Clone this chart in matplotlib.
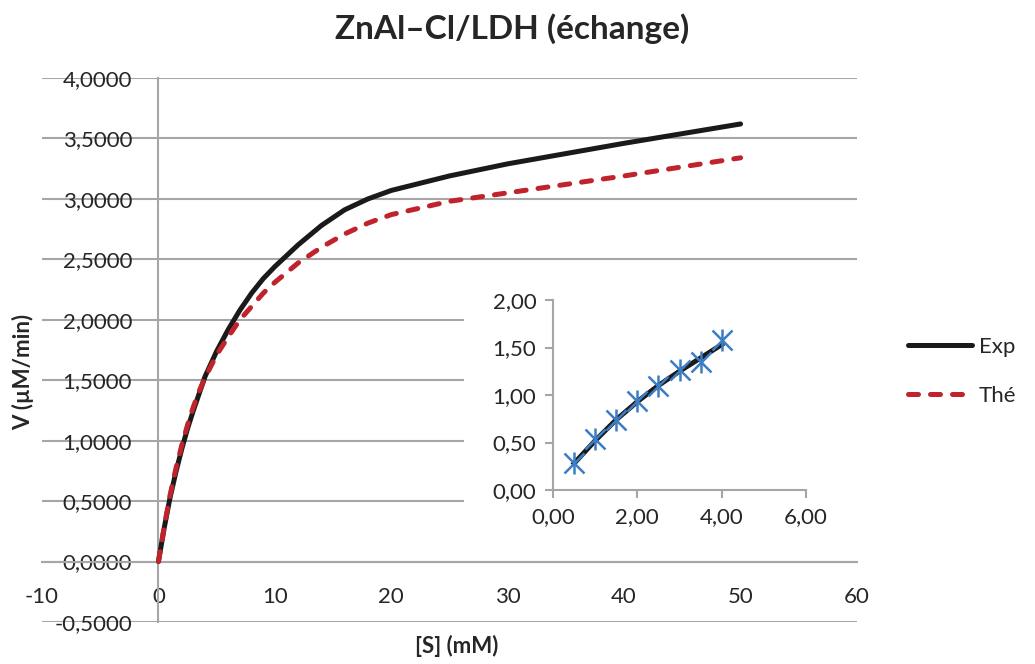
import numpy as np
import matplotlib
matplotlib.use("Agg")
import matplotlib.pyplot as plt
from matplotlib.ticker import FuncFormatter
from matplotlib.patches import Rectangle

plt.rcParams['font.family'] = ['Lato', 'DejaVu Sans']

# donnees
s_exp = [0, 0.5, 1, 1.5, 2, 2.5, 3, 3.5, 4, 5, 6, 7, 8, 9, 10, 12, 14, 16, 18, 20, 25, 30, 40, 50]
v_exp = [0, 0.28, 0.53, 0.74, 0.93, 1.10, 1.25, 1.39, 1.53, 1.74, 1.92, 2.08, 2.22, 2.34, 2.44,
         2.62, 2.78, 2.91, 3.00, 3.07, 3.19, 3.29, 3.46, 3.62]
s_the = [0, 0.5, 1, 1.5, 2, 2.5, 3, 3.5, 4, 5, 6, 7, 8, 9, 10, 12, 14, 16, 18, 20, 25, 30, 40, 50]
v_the = [0, 0.29, 0.55, 0.77, 0.96, 1.13, 1.28, 1.41, 1.52, 1.71, 1.86, 2.00, 2.11, 2.22, 2.31,
         2.47, 2.60, 2.71, 2.80, 2.87, 2.98, 3.05, 3.19, 3.34]

# encart
s_in = [0.5, 1, 1.5, 2, 2.5, 3, 3.5, 4]
v_in_pts = [0.28, 0.54, 0.74, 0.94, 1.10, 1.26, 1.345, 1.58]
v_in_fit = [0.28, 0.52, 0.74, 0.93, 1.10, 1.25, 1.39, 1.53]

grid_col = '#A6A6A6'
txt_col = '#262626'
red = '#C0232B'
blue = '#3C7DC4'

fig = plt.figure(figsize=(10.35, 6.64), dpi=100)
ax = fig.add_axes([0.0406, 0.0633, 0.7874, 0.8192])
ax.set_xlim(-10, 60)
ax.set_ylim(-0.5, 4.0)

ax.set_yticks(np.arange(-0.5, 4.01, 0.5))
ax.set_xticks(np.arange(-10, 61, 10))
ax.yaxis.grid(True, color=grid_col, linewidth=1.5)
ax.set_axisbelow(True)
for sp in ['top', 'right']:
    ax.spines[sp].set_visible(False)
ax.spines['left'].set_position(('data', 0))
ax.spines['bottom'].set_position(('data', 0))
ax.spines['left'].set_color(grid_col)
ax.spines['bottom'].set_color(grid_col)
ax.spines['left'].set_linewidth(1.5)
ax.spines['bottom'].set_linewidth(1.5)
ax.tick_params(axis='y', length=0, pad=19, labelsize=16, labelcolor=txt_col)
ax.tick_params(axis='x', length=0, pad=18, labelsize=16, labelcolor=txt_col)
ax.yaxis.set_major_formatter(FuncFormatter(lambda v, p: f"{v:.4f}".replace('.', ',')))
ax.xaxis.set_major_formatter(FuncFormatter(lambda v, p: f"{v:.0f}"))

ax.plot(s_exp, v_exp, color='#1a1a1a', linewidth=3.6, label='Exp', solid_capstyle='round', zorder=3)
ax.plot(s_the, v_the, color=red, linewidth=3.6, linestyle=(0, (2.0, 2.4)), label='Thé',
        dash_capstyle='round', zorder=4)

fig.text(0.495, 0.957, 'ZnAl\u2013Cl/LDH (échange)', ha='center', va='center',
         fontsize=24, fontweight='bold', color=txt_col)
fig.text(0.022, 0.44, 'V (µM/min)', ha='center', va='center', rotation=90,
         fontsize=16, fontweight='bold', color=txt_col)
fig.text(0.441, 0.027, '[S] (mM)', ha='center', va='center',
         fontsize=16, fontweight='bold', color=txt_col)

leg = fig.legend(loc='center left', bbox_to_anchor=(0.877, 0.441), frameon=False,
                 fontsize=16, handlelength=2.9, labelspacing=1.3, handletextpad=0.3,
                 borderaxespad=0, borderpad=0)
for t in leg.get_texts():
    t.set_color(txt_col)

# fond blanc de l'encart
fig.patches.append(Rectangle((464 / 1035, (664 - 550) / 664), (860 - 464) / 1035, 280 / 664,
                             transform=fig.transFigure, facecolor='white', edgecolor='none', zorder=1))

ins = fig.add_axes([553 / 1035, (664 - 490) / 664, 253 / 1035, 190 / 664], zorder=5)
ins.patch.set_alpha(0)
ins.set_xlim(0, 6)
ins.set_ylim(0, 2)
ins.set_xticks([0, 2, 4, 6])
ins.set_yticks([0, 0.5, 1, 1.5, 2])
for sp in ['top', 'right']:
    ins.spines[sp].set_visible(False)
for sp in ['left', 'bottom']:
    ins.spines[sp].set_color(grid_col)
    ins.spines[sp].set_linewidth(1.5)
ins.tick_params(length=6, width=1.5, color=grid_col, labelsize=16, labelcolor=txt_col, pad=6)
ins.xaxis.set_major_formatter(FuncFormatter(lambda v, p: f"{v:.2f}".replace('.', ',')))
ins.yaxis.set_major_formatter(FuncFormatter(lambda v, p: f"{v:.2f}".replace('.', ',')))
ins.plot(s_in, v_in_fit, color='#1a1a1a', linewidth=3.6, zorder=3)
ins.plot(s_in, v_in_pts, linestyle='none', marker='x', markersize=14, markeredgewidth=1.8,
         color=blue, zorder=4)
ins.plot(s_in, v_in_pts, linestyle='none', marker='|', markersize=16, markeredgewidth=1.8,
         color=blue, zorder=4)
for sp in ins.spines.values():
    sp.set_zorder(2)

fig.savefig('out.png', dpi=100)
